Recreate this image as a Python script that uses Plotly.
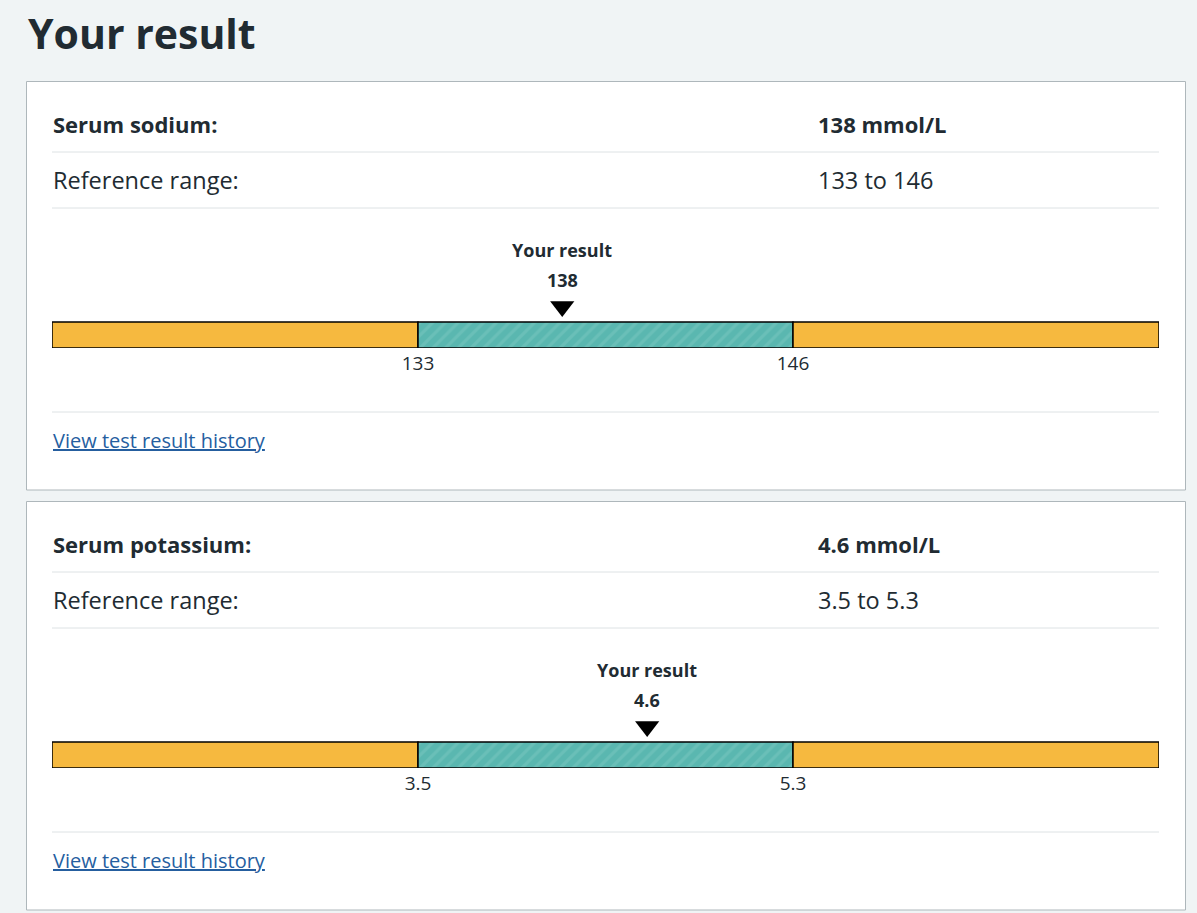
import plotly.graph_objects as go

# ---- data ----
test_names = ["Serum sodium:", "Serum potassium:"]
result_values = [138, 4.6]
result_labels = ["138", "4.6"]
units = ["mmol/L", "mmol/L"]
ref_low = [133, 3.5]
ref_high = [146, 5.3]
ref_low_labels = ["133", "3.5"]
ref_high_labels = ["146", "5.3"]
range_texts = ["133 to 146", "3.5 to 5.3"]
page_title = "Your result"
marker_title = "Your result"
link_text = "View test result history"

# ---- style ----
W, H = 1197, 913
BG = "#f0f4f5"
TXT = "#212b32"
ORANGE = "#f6b93f"
TEAL = "#5ab7b0"
TEAL_LIGHT = "#7ac7c0"
DIVIDER = "#dde2e4"
CARD_BORDER = "#aeb7bb"
LINK = "#255e9f"
FONT = "Open Sans"
OUTER_RATIO = 366 / 375  # width of outer segments relative to the normal range


def py(p):
    return 1 - p / H


def px(p):
    return p / W


fig = go.Figure()
shapes = []
annotations = []

annotations.append(dict(x=px(26), y=py(33), xref="paper", yref="paper", text="<b>" + page_title + "</b>",
                        showarrow=False, xanchor="left", yanchor="middle",
                        font=dict(family=FONT, size=41, color=TXT)))

card_offset = 420
for i in range(len(test_names)):
    off = i * card_offset
    ax = "" if i == 0 else str(i + 1)
    # card
    shapes.append(dict(type="rect", xref="paper", yref="paper", x0=px(26.5), x1=px(1185.5),
                       y0=py(81.5 + off), y1=py(490 + off), fillcolor="white",
                       line=dict(color=CARD_BORDER, width=1), layer="below"))
    for dy in (152, 208, 412):
        shapes.append(dict(type="line", xref="paper", yref="paper", x0=px(52), x1=px(1159),
                           y0=py(dy + off), y1=py(dy + off), line=dict(color=DIVIDER, width=1), layer="below"))
    annotations += [
        dict(x=px(51), y=py(124 + off), text="<b>" + test_names[i] + "</b>", xanchor="left",
             font=dict(family=FONT, size=22, color=TXT)),
        dict(x=px(816), y=py(124 + off), text="<b>%s %s</b>" % (result_labels[i], units[i]), xanchor="left",
             font=dict(family=FONT, size=22, color=TXT)),
        dict(x=px(51), y=py(180 + off), text="Reference range:", xanchor="left",
             font=dict(family=FONT, size=23.5, color=TXT)),
        dict(x=px(816), y=py(180 + off), text=range_texts[i], xanchor="left",
             font=dict(family=FONT, size=23.5, color=TXT)),
        dict(x=px(51), y=py(440 + off), text="<u>" + link_text + "</u>", xanchor="left",
             font=dict(family=FONT, size=20, color=LINK)),
    ]
    for a in annotations[-5:]:
        a.update(xref="paper", yref="paper", showarrow=False, yanchor="middle")

    lo, hi = ref_low[i], ref_high[i]
    span = (hi - lo) * OUTER_RATIO
    xa = "x" + ax
    ya = "y" + ax
    # bars
    fig.add_trace(go.Bar(x=[span], base=[lo - span], y=[0], orientation="h", width=1,
                         marker=dict(color=ORANGE, line=dict(color="black", width=1.5)),
                         xaxis=xa, yaxis=ya, showlegend=False, hoverinfo="skip"))
    fig.add_trace(go.Bar(x=[hi - lo], base=[lo], y=[0], orientation="h", width=1,
                         marker=dict(color=TEAL, line=dict(color="black", width=1.5),
                                     pattern=dict(shape="/", bgcolor=TEAL, fgcolor=TEAL_LIGHT,
                                                  size=9, solidity=0.35)),
                         xaxis=xa, yaxis=ya, showlegend=False, hoverinfo="skip"))
    fig.add_trace(go.Bar(x=[span], base=[hi], y=[0], orientation="h", width=1,
                         marker=dict(color=ORANGE, line=dict(color="black", width=1.5)),
                         xaxis=xa, yaxis=ya, showlegend=False, hoverinfo="skip"))
    # marker
    fig.add_trace(go.Scatter(x=[result_values[i]], y=[1.1], mode="markers", cliponaxis=False,
                             marker=dict(symbol="triangle-down", size=21, color="black",
                                         line=dict(width=0)),
                             xaxis=xa, yaxis=ya, showlegend=False, hoverinfo="skip"))
    annotations += [
        dict(x=result_values[i], xref=xa, y=py(250 + off), yref="paper", text="<b>" + marker_title + "</b>",
             showarrow=False, xanchor="center", yanchor="middle", font=dict(family=FONT, size=18, color=TXT)),
        dict(x=result_values[i], xref=xa, y=py(280 + off), yref="paper", text="<b>" + result_labels[i] + "</b>",
             showarrow=False, xanchor="center", yanchor="middle", font=dict(family=FONT, size=18, color=TXT)),
    ]
    axis_x = dict(domain=[px(52), px(1159)], range=[lo - span, hi + span], anchor=ya,
                  tickvals=[lo, hi], ticktext=[ref_low_labels[i], ref_high_labels[i]],
                  showgrid=False, zeroline=False, showline=False, ticks="", ticklabelstandoff=2,
                  tickfont=dict(family=FONT, size=19, color=TXT), fixedrange=True)
    # domain covers the bar (bottom) plus the marker area above; 1 unit = 26 px
    axis_y = dict(domain=[py(348 + off), py(296 + off)], range=[-0.5, 1.5], anchor=xa,
                  showgrid=False, zeroline=False, showticklabels=False, fixedrange=True)
    fig.update_layout(**{"xaxis" + ax: axis_x, "yaxis" + ax: axis_y})

fig.update_layout(width=W, height=H, margin=dict(l=0, r=0, t=0, b=0),
                  paper_bgcolor=BG, plot_bgcolor="rgba(0,0,0,0)",
                  shapes=shapes, annotations=annotations, barmode="overlay",
                  showlegend=False, font=dict(family=FONT, color=TXT))
fig.write_html("out.html", config={"displayModeBar": False},
               post_script="document.body.style.margin='0';document.body.style.overflow='hidden';")
